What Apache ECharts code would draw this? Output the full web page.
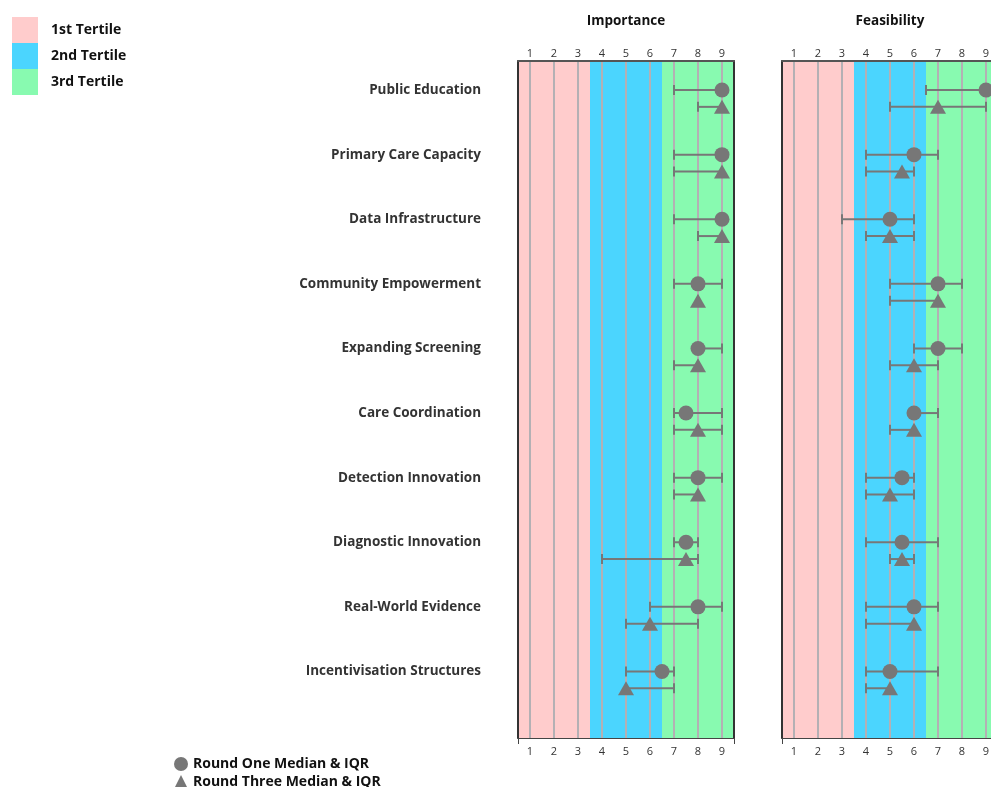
<!DOCTYPE html>
<html>
<head>
<meta charset="utf-8">
<script src="https://cdn.jsdelivr.net/npm/echarts@6/dist/echarts.min.js"></script>
<style>
  html, body { margin: 0; padding: 0; background: #ffffff; }
  #chart { width: 991px; height: 787px; }
</style>
</head>
<body>
<div id="chart"></div>
<script>
// ---- data ----
const categories = [
  'Public Education', 'Primary Care Capacity', 'Data Infrastructure',
  'Community Empowerment', 'Expanding Screening', 'Care Coordination',
  'Detection Innovation', 'Diagnostic Innovation', 'Real-World Evidence',
  'Incentivisation Structures'
];
const scaleTicks = [1, 2, 3, 4, 5, 6, 7, 8, 9];
const tertileNames = ['1st Tertile', '2nd Tertile', '3rd Tertile'];
const tertileBounds = [[0.5, 3.5], [3.5, 6.5], [6.5, 9.5]];
const roundNames = ['Round One Median & IQR', 'Round Three Median & IQR'];
const panelTitles = ['Importance', 'Feasibility'];

// Importance ratings
const impR1Median = [9, 9, 9, 8, 8, 7.5, 8, 7.5, 8, 6.5];
const impR1Low    = [7, 7, 7, 7, 8, 7, 7, 7, 6, 5];
const impR1High   = [9, 9, 9, 9, 9, 9, 9, 8, 9, 7];
const impR3Median = [9, 9, 9, 8, 8, 8, 8, 7.5, 6, 5];
const impR3Low    = [8, 7, 8, 8, 7, 7, 7, 4, 5, 5];
const impR3High   = [9, 9, 9, 8, 8, 9, 8, 8, 8, 7];

// Feasibility ratings
const feaR1Median = [9, 6, 5, 7, 7, 6, 5.5, 5.5, 6, 5];
const feaR1Low    = [6.5, 4, 3, 5, 6, 6, 4, 4, 4, 4];
const feaR1High   = [9, 7, 6, 8, 8, 7, 6, 7, 7, 7];
const feaR3Median = [7, 5.5, 5, 7, 6, 6, 5, 5.5, 6, 5];
const feaR3Low    = [5, 4, 4, 5, 5, 5, 4, 5, 4, 4];
const feaR3High   = [9, 6, 6, 7, 7, 6, 6, 6, 6, 5];

// ---- styling ----
const FONT = "'Open Sans', 'Noto Sans', sans-serif";
const tertileColors = ['#ffcccc', '#4bd5fe', '#88fab0'];
const MARK = '#777777';
const GRIDLINE = '#b4b0b4';
const ROUND3_OFFSET = 0.26;   // vertical shift of the round-three row within a category

const panels = [
  { r1: [impR1Median, impR1Low, impR1High], r3: [impR3Median, impR3Low, impR3High], left: 518 },
  { r1: [feaR1Median, feaR1Low, feaR1High], r3: [feaR3Median, feaR3Low, feaR3High], left: 782 }
];

function renderIqr(params, api) {
  const y = api.value(2);
  const a = api.coord([api.value(0), y]);
  const b = api.coord([api.value(1), y]);
  const cap = 5;
  const style = { stroke: MARK, lineWidth: 2 };
  return {
    type: 'group',
    children: [
      { type: 'line', shape: { x1: a[0], y1: a[1], x2: b[0], y2: b[1] }, style },
      { type: 'line', shape: { x1: a[0], y1: a[1] - cap, x2: a[0], y2: a[1] + cap }, style },
      { type: 'line', shape: { x1: b[0], y1: b[1] - cap, x2: b[0], y2: b[1] + cap }, style }
    ]
  };
}

const grids = [], xAxes = [], yAxes = [], series = [], graphics = [];

panels.forEach((p, pi) => {
  grids.push({ left: p.left, top: 61, width: 216, height: 677, outerBoundsMode: 'none', containLabel: false });
  const xBase = {
    gridIndex: pi, type: 'value', min: 0.5, max: 9.5, z: 10,
    splitLine: { show: false }
  };
  // top scale
  xAxes.push(Object.assign({}, xBase, {
    position: 'top',
    axisLine: { show: true, onZero: false, lineStyle: { color: '#555555', width: 2 } },
    axisTick: { show: false },
    axisLabel: { customValues: scaleTicks, margin: 2, color: '#333333', fontSize: 11, fontFamily: FONT }
  }));
  // bottom scale
  xAxes.push(Object.assign({}, xBase, {
    position: 'bottom',
    axisLine: { show: true, onZero: false, lineStyle: { color: '#444444', width: 1 } },
    axisTick: { show: true, customValues: [0.5, 9.5], length: 6, lineStyle: { color: '#444444' } },
    axisLabel: { customValues: scaleTicks, margin: 8, color: '#333333', fontSize: 11, fontFamily: FONT }
  }));
  const yBase = {
    gridIndex: pi, type: 'value', min: -0.45, max: 10.03, inverse: true, z: 10,
    splitLine: { show: false }, axisTick: { show: false },
    axisLine: { show: true, onZero: false, lineStyle: { color: '#333333', width: 2 } }
  };
  yAxes.push(Object.assign({}, yBase, {
    position: 'left',
    axisLabel: pi === 0 ? {
      customValues: categories.map((c, i) => i),
      formatter: v => categories[Math.round(v)],
      margin: 37, color: '#333333', fontSize: 13.5, fontWeight: 'bold', fontFamily: FONT,
      padding: [6, 0, 0, 0]
    } : { show: false }
  }));
  yAxes.push(Object.assign({}, yBase, { position: 'right', axisLabel: { show: false } }));

  const xi = pi * 2 + 1, yi = pi * 2;

  // tertile bands
  tertileNames.forEach((name, ti) => {
    series.push({
      name, type: 'line', xAxisIndex: xi, yAxisIndex: yi, data: [],
      itemStyle: { color: tertileColors[ti] }, lineStyle: { color: tertileColors[ti] },
      silent: true,
      markArea: {
        silent: true, z: 0,
        itemStyle: { color: tertileColors[ti], opacity: 1 },
        data: [[{ xAxis: tertileBounds[ti][0] }, { xAxis: tertileBounds[ti][1] }]]
      }
    });
  });

  // vertical scale lines
  series.push({
    type: 'line', xAxisIndex: xi, yAxisIndex: yi, data: [], silent: true,
    markLine: {
      silent: true, z: 1, symbol: 'none', label: { show: false },
      lineStyle: { color: GRIDLINE, type: 'solid', width: 2 },
      data: scaleTicks.map(v => ({ xAxis: v }))
    }
  });

  // IQR bars
  [p.r1, p.r3].forEach((r, ri) => {
    series.push({
      type: 'custom', xAxisIndex: xi, yAxisIndex: yi, z: 3, silent: true,
      renderItem: renderIqr,
      encode: { x: [0, 1], y: 2 },
      data: categories.map((c, i) => [r[1][i], r[2][i], i + ri * ROUND3_OFFSET])
    });
  });

  // medians
  series.push({
    name: roundNames[0], type: 'scatter', xAxisIndex: xi, yAxisIndex: yi, z: 4,
    symbol: 'circle', symbolSize: 15, itemStyle: { color: MARK, opacity: 1 },
    data: categories.map((c, i) => [p.r1[0][i], i])
  });
  series.push({
    name: roundNames[1], type: 'scatter', xAxisIndex: xi, yAxisIndex: yi, z: 4,
    symbol: 'triangle', symbolSize: [16, 14], itemStyle: { color: MARK, opacity: 1 },
    data: categories.map((c, i) => [p.r3[0][i], i + ROUND3_OFFSET])
  });

  graphics.push({
    type: 'text', x: p.left + 108, y: 21,
    style: { text: panelTitles[pi], align: 'center', verticalAlign: 'middle',
             font: 'bold 13.5px ' + FONT, fill: '#111111' }
  });
});

const roundLegend = (name, icon, top) => ({
  data: [{ name, icon }], orient: 'vertical', left: 174, top, padding: 0,
  itemWidth: 14, itemHeight: 14, selectedMode: false,
  textStyle: { fontSize: 14, fontWeight: 'bold', color: '#111111', fontFamily: FONT, padding: [2, 0, 0, 0] }
});

const chart = echarts.init(document.getElementById('chart'), null, { renderer: 'canvas' });
chart.setOption({
  animation: false,
  backgroundColor: '#ffffff',
  grid: grids,
  xAxis: xAxes,
  yAxis: yAxes,
  graphic: graphics,
  legend: [
    {
      data: tertileNames, orient: 'vertical', left: 12, top: 17, padding: 0,
      itemWidth: 26, itemHeight: 26, itemGap: 0, icon: 'rect', selectedMode: false,
      textStyle: { fontSize: 14, fontWeight: 'bold', color: '#111111', fontFamily: FONT, padding: [3, 0, 0, 8] }
    },
    roundLegend(roundNames[0], 'circle', 757),
    roundLegend(roundNames[1], 'triangle', 775)
  ],
  series
});
</script>
</body>
</html>
